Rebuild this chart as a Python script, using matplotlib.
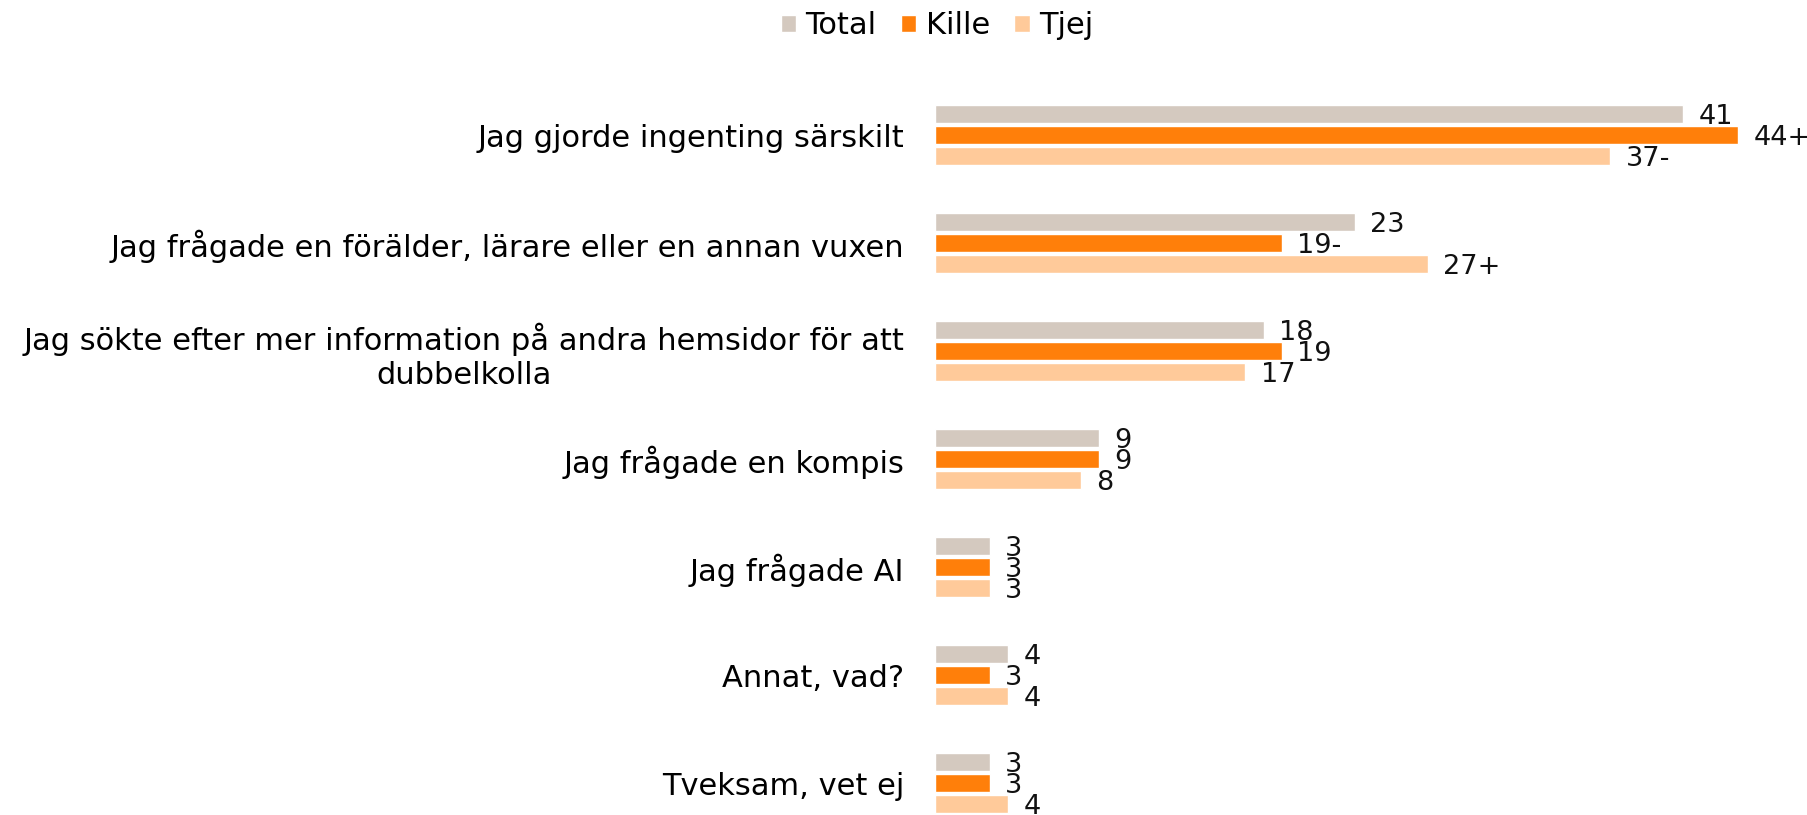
import matplotlib
matplotlib.use('Agg')
import matplotlib.pyplot as plt
import numpy as np

plt.rcParams['font.family'] = ['DejaVu Sans']

categories = ['Jag gjorde ingenting särskilt',
              'Jag frågade en förälder, lärare eller en annan vuxen',
              'Jag sökte efter mer information på andra hemsidor för att\ndubbelkolla',
              'Jag frågade en kompis',
              'Jag frågade AI',
              'Annat, vad?',
              'Tveksam, vet ej']
series = ['Total', 'Kille', 'Tjej']
total = [41, 23, 18, 9, 3, 4, 3]
kille = [44, 19, 19, 9, 3, 3, 3]
tjej = [37, 27, 17, 8, 3, 4, 4]
# signifikansmarkering
total_sig = ['', '', '', '', '', '', '']
kille_sig = ['+', '-', '', '', '', '', '']
tjej_sig = ['-', '+', '', '', '', '', '']

colors = ['#d4c9bf', '#ff7f0a', '#ffca9a']

fig = plt.figure(figsize=(18.08, 8.15), dpi=100)
ax = fig.add_axes([935/1808, 0, 873/1808, 740/815])

y = np.arange(len(categories))
h = 0.171
step = 0.194
for i, (vals, sig) in enumerate(zip([total, kille, tjej], [total_sig, kille_sig, tjej_sig])):
    pos = y + (i - 1) * step
    ax.barh(pos, vals, height=h, color=colors[i], edgecolor='white', linewidth=1, label=series[i])
    for p, v, s in zip(pos, vals, sig):
        ax.annotate(f'{v}{s}', (v, p), xytext=(11, -2), textcoords='offset points',
                    ha='left', va='center', fontsize=19.5, color='#111111')

ax.set_xlim(0, 873/18.25)
ax.set_ylim(6.296, -0.556)
ax.set_yticks(y)
ax.set_yticklabels(categories, fontsize=22, multialignment='center')
ax.tick_params(axis='y', length=0, pad=22)
ax.set_xticks([])
for s in ax.spines.values():
    s.set_visible(False)

fig.legend(loc='center', bbox_to_anchor=(937/1808, 1 - 26/815), ncol=3, frameon=False,
           fontsize=22, handlelength=0.5, handleheight=0.5, handletextpad=0.3,
           columnspacing=0.8, borderpad=0)

fig.savefig('out.png', dpi=100)
